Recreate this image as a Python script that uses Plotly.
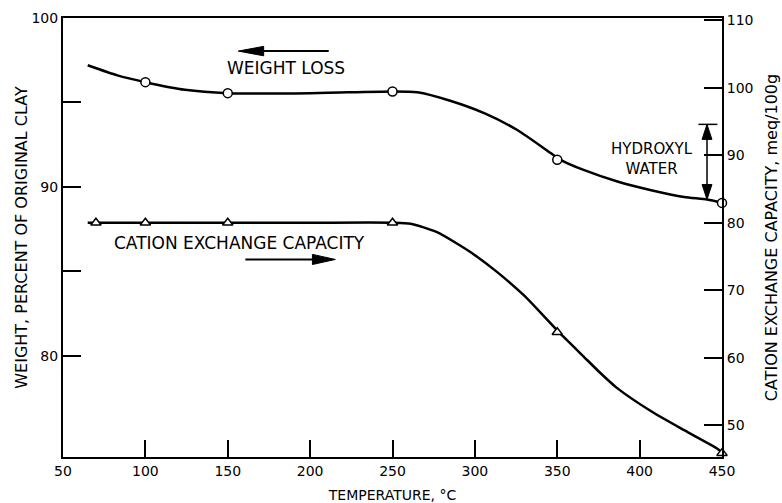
import plotly.graph_objects as go

# ---- data ----
temp_wl_pts = [100, 150, 250, 350, 450]
wl_pts = [96.2, 95.55, 95.65, 91.6, 89.05]

temp_wl_curve = [65, 83, 100, 124, 150, 200, 250, 265, 285, 306, 326, 346, 352, 366, 387, 407, 427, 441, 450]
wl_curve = [97.2, 96.6, 96.2, 95.75, 95.55, 95.55, 95.65, 95.6, 95.1, 94.35, 93.35, 92.0, 91.6, 91.0, 90.3, 89.8, 89.4, 89.25, 89.05]

temp_cec_pts = [70, 100, 150, 250, 350, 450]
cec_pts = [80, 80, 80, 80, 63.8, 45.9]

temp_cec_curve = [65, 100, 150, 200, 250, 261, 277, 297, 313, 330, 351, 366, 376, 386, 407, 427, 447, 450]
cec_curve = [80, 80, 80, 80, 80, 79.85, 78.6, 75.7, 72.8, 69.2, 63.8, 60.2, 57.8, 55.6, 52.1, 49.3, 46.6, 46.0]

x_ticks = [50, 100, 150, 200, 250, 300, 350, 400, 450]
y_left_ticks = [80, 85, 90, 95, 100]
y_left_text = ["80", "", "90", "", "100"]
y_right_ticks = [50, 60, 70, 80, 90, 100, 110]

FONT = "DejaVu Sans"
INK = "black"

fig = go.Figure()

fig.add_trace(go.Scatter(x=temp_wl_curve, y=wl_curve, mode="lines",
                         line=dict(color=INK, width=2.5, shape="spline", smoothing=0.6),
                         hoverinfo="skip", showlegend=False))
fig.add_trace(go.Scatter(x=temp_wl_pts, y=wl_pts, mode="markers", cliponaxis=False,
                         marker=dict(symbol="circle", size=9, color="white",
                                     line=dict(color=INK, width=1.5)),
                         showlegend=False, name="Weight loss"))
fig.add_trace(go.Scatter(x=temp_cec_curve, y=cec_curve, mode="lines", yaxis="y2",
                         line=dict(color=INK, width=2.5, shape="spline", smoothing=0.6),
                         hoverinfo="skip", showlegend=False))
fig.add_trace(go.Scatter(x=temp_cec_pts, y=cec_pts, mode="markers", yaxis="y2", cliponaxis=False,
                         marker=dict(symbol="triangle-up", size=9, color="white",
                                     line=dict(color=INK, width=1.5)),
                         showlegend=False, name="Cation exchange capacity"))

shapes = []
# weight loss arrow (pointing left)
shapes.append(dict(type="line", xref="x", yref="y", x0=171.8, x1=211.3, y0=98.04, y1=98.04,
                   line=dict(color=INK, width=2)))
shapes.append(dict(type="path", xref="x", yref="y",
                   path="M 156.4,98.04 L 171.8,98.32 L 171.8,97.76 Z",
                   fillcolor=INK, line=dict(color=INK, width=1)))
# CEC arrow (pointing right)
shapes.append(dict(type="line", xref="x", yref="y", x0=160.7, x1=201.4, y0=85.7, y1=85.7,
                   line=dict(color=INK, width=2)))
shapes.append(dict(type="path", xref="x", yref="y",
                   path="M 215.3,85.7 L 201.4,86.0 L 201.4,85.4 Z",
                   fillcolor=INK, line=dict(color=INK, width=1)))
# hydroxyl water double arrow
shapes.append(dict(type="line", xref="x", yref="y", x0=440.9, x1=440.9, y0=89.3, y1=93.65,
                   line=dict(color=INK, width=1.5)))
shapes.append(dict(type="line", xref="x", yref="y", x0=435.7, x1=447.2, y0=93.70, y1=93.70,
                   line=dict(color=INK, width=1.5)))
shapes.append(dict(type="path", xref="x", yref="y",
                   path="M 440.9,93.70 L 437.9,92.81 L 443.9,92.81 Z",
                   fillcolor=INK, line=dict(color=INK, width=1)))
shapes.append(dict(type="path", xref="x", yref="y",
                   path="M 440.9,89.25 L 437.9,90.14 L 443.9,90.14 Z",
                   fillcolor=INK, line=dict(color=INK, width=1)))

ann_font = dict(family=FONT, size=17, color=INK)
annotations = [
    dict(x=185.6, y=97.01, xref="x", yref="y", text="WEIGHT LOSS", showarrow=False, font=ann_font),
    dict(x=157.1, y=86.7, xref="x", yref="y", text="CATION EXCHANGE CAPACITY", showarrow=False, font=ann_font),
    dict(x=407.8, y=91.66, xref="x", yref="y", text="HYDROXYL<br>WATER", showarrow=False,
         font=dict(family=FONT, size=15, color=INK)),
]

axis_common = dict(showline=True, linecolor=INK, linewidth=2, showgrid=False, zeroline=False,
                   ticks="inside", tickcolor=INK, tickwidth=1.5, automargin=False,
                   tickfont=dict(family=FONT, size=14, color=INK))

fig.update_layout(
    width=782, height=503,
    margin=dict(l=63, r=60, t=18, b=46, autoexpand=False),
    paper_bgcolor="white", plot_bgcolor="white",
    font=dict(family=FONT, color=INK),
    showlegend=False,
    xaxis=dict(range=[50, 450], tickvals=x_ticks, ticklen=17, mirror=True,
               title=dict(text="TEMPERATURE, °C", font=dict(family=FONT, size=14, color=INK), standoff=13),
               **axis_common),
    yaxis=dict(range=[74, 100], tickvals=y_left_ticks, ticktext=y_left_text, ticklen=18,
               title=dict(text="WEIGHT, PERCENT OF ORIGINAL CLAY", font=dict(family=FONT, size=16, color=INK), standoff=0),
               **axis_common),
    yaxis2=dict(range=[45.33, 110.3], tickvals=y_right_ticks, ticklen=18, overlaying="y", side="right",
                title=dict(text="CATION EXCHANGE CAPACITY, meq/100g", font=dict(family=FONT, size=16, color=INK), standoff=13),
                **axis_common),
    shapes=shapes,
    annotations=annotations,
)

fig.write_html("out.html", config={"displayModeBar": False},
               post_script="document.body.style.margin='0';")
